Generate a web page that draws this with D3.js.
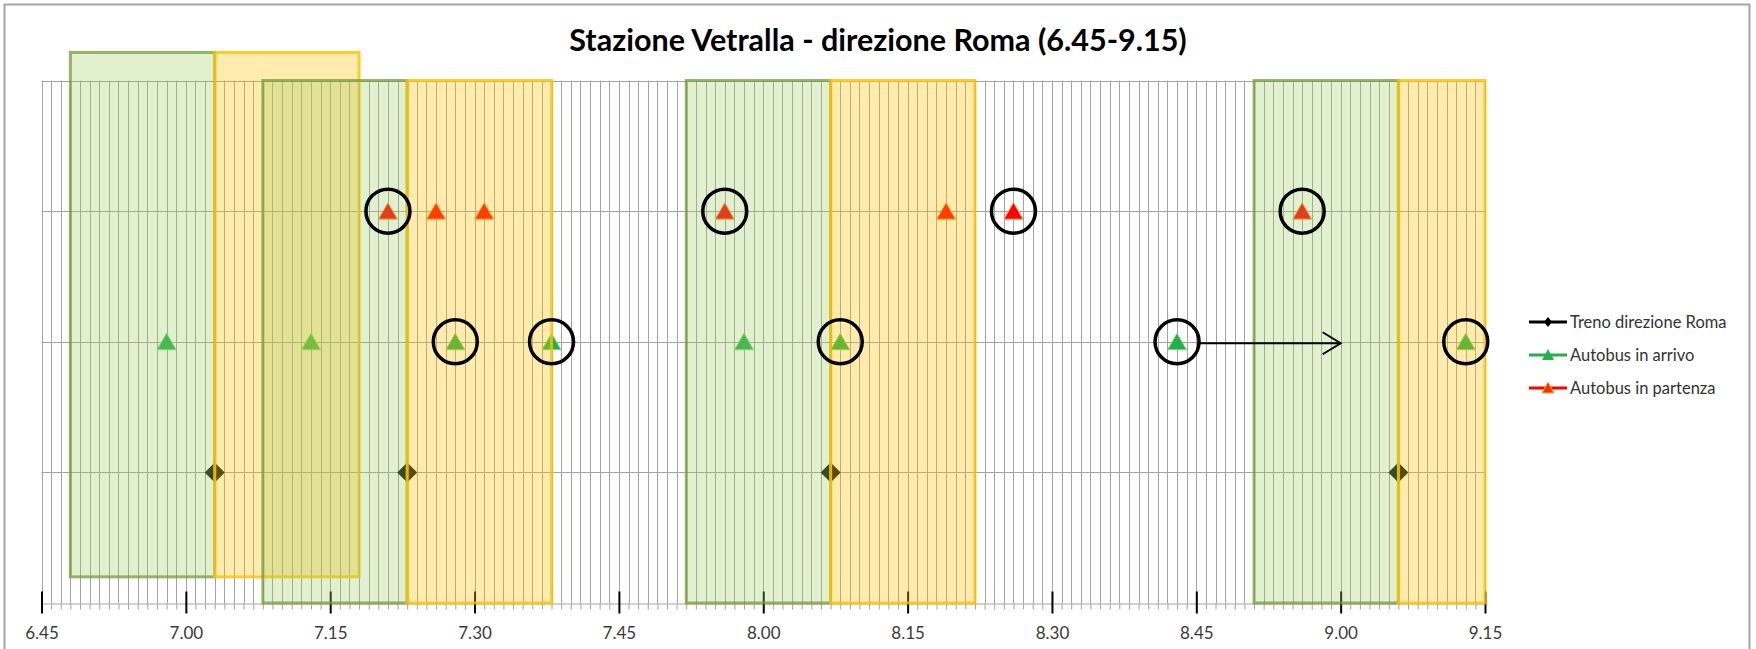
<!DOCTYPE html>
<html>
<head>
<meta charset="utf-8">
<script src="https://cdn.jsdelivr.net/npm/d3@7"></script>
<style>
  body { margin: 0; background: #fff; }
  svg { display: block; }
</style>
</head>
<body>
<div id="chart"></div>
<script>
// orari (h.mm)
const chartTitle = "Stazione Vetralla - direzione Roma (6.45-9.15)";
const tickLabels = ["6.45", "7.00", "7.15", "7.30", "7.45", "8.00", "8.15", "8.30", "8.45", "9.00", "9.15"];
const trainTimes = ["7.03", "7.23", "8.07", "9.06"];
const arrivalTimes = ["6.58", "7.13", "7.28", "7.38", "7.58", "8.08", "8.43", "9.13"];
const departureTimes = ["7.21", "7.26", "7.31", "7.56", "8.19", "8.26", "8.56"];
const circledArrivals = ["7.28", "7.38", "8.08", "8.43", "9.13"];
const circledDepartures = ["7.21", "7.56", "8.26", "8.56"];
const arrowFrom = "8.43";
const arrowTo = "9.00";
const windowMinutes = 15;
const seriesNames = ["Treno direzione Roma", "Autobus in arrivo", "Autobus in partenza"];
const seriesLevels = [1, 2, 3];

const W = 1756, H = 649;
const toMin = s => { const [h, m] = s.split(".").map(Number); return h * 60 + m; };
const fmt = m => `${Math.floor(m / 60)}.${String(m % 60).padStart(2, "0")}`;

const t0 = toMin(tickLabels[0]), t1 = toMin(tickLabels[tickLabels.length - 1]);
const x = d3.scaleLinear().domain([t0, t1]).range([41.5, 1485]);
const y = d3.scaleLinear().domain([0, 4]).range([603, 80.5]);

const svg = d3.select("#chart").append("svg")
    .attr("width", W)
    .attr("height", H)
    .style("font-family", "Lato, 'Open Sans', sans-serif");

svg.append("rect")
    .attr("x", 4.5).attr("y", 4.5)
    .attr("width", 1745).attr("height", 700)
    .attr("fill", "#fff")
    .attr("stroke", "#a6a6a6")
    .attr("stroke-width", 2);

svg.append("text")
    .attr("x", 878)
    .attr("y", 51)
    .attr("text-anchor", "middle")
    .attr("font-size", "30.5px")
    .attr("font-weight", "bold")
    .attr("fill", "#000")
    .text(chartTitle);

const plot = svg.append("g");

// griglia verticale ogni minuto
const minutes = d3.range(t0, t1 + 1);
plot.selectAll(".vgrid")
    .data(minutes)
    .enter().append("line")
    .attr("class", "vgrid")
    .attr("x1", d => Math.round(x(d)) + 0.5)
    .attr("x2", d => Math.round(x(d)) + 0.5)
    .attr("y1", y(4))
    .attr("y2", y(0))
    .attr("stroke", "#a3a3a3")
    .attr("stroke-width", 1);

plot.selectAll(".hgrid")
    .data([1, 2, 3, 4])
    .enter().append("line")
    .attr("class", "hgrid")
    .attr("x1", x(t0))
    .attr("x2", x(t1))
    .attr("y1", d => Math.round(y(d)) + 0.5)
    .attr("y2", d => Math.round(y(d)) + 0.5)
    .attr("stroke", "#a3a3a3")
    .attr("stroke-width", 1);

// asse x: tacche minori, poi maggiori con etichette
const minorAxis = d3.axisBottom(x)
    .tickValues(minutes)
    .tickSize(6)
    .tickFormat("");
const gMinor = plot.append("g")
    .attr("transform", `translate(0,${Math.round(y(0)) + 0.5})`)
    .call(minorAxis);
gMinor.select(".domain").attr("stroke", "#a3a3a3");
gMinor.selectAll(".tick line").attr("stroke", "#a3a3a3");

const majorAxis = d3.axisBottom(x)
    .tickValues(tickLabels.map(toMin))
    .tickSize(10)
    .tickPadding(13)
    .tickFormat(fmt);
const gMajor = plot.append("g")
    .attr("transform", `translate(0,${Math.round(y(0)) + 0.5})`)
    .call(majorAxis);
gMajor.select(".domain").remove();
gMajor.selectAll(".tick line")
    .attr("y1", -12)
    .attr("stroke", "#000")
    .attr("stroke-width", 2);
gMajor.selectAll(".tick text")
    .attr("font-size", "17px")
    .attr("font-family", "Lato, sans-serif")
    .attr("fill", "#3a3a3a");

// marcatori
const triangle = "M0,-8.5L9.5,8L-9.5,8Z";
const diamond = "M0,-10L10,0L0,10L-10,0Z";

plot.selectAll(".train")
    .data(trainTimes)
    .enter().append("path")
    .attr("class", "train")
    .attr("d", diamond)
    .attr("transform", d => `translate(${x(toMin(d))},${y(seriesLevels[0])})`)
    .attr("fill", "#111");

plot.selectAll(".arrival")
    .data(arrivalTimes)
    .enter().append("path")
    .attr("class", "arrival")
    .attr("d", triangle)
    .attr("transform", d => `translate(${x(toMin(d))},${y(seriesLevels[1])})`)
    .attr("fill", "#22b14c")
    .attr("stroke", "#8fd47f")
    .attr("stroke-width", 1);

plot.selectAll(".departure")
    .data(departureTimes)
    .enter().append("path")
    .attr("class", "departure")
    .attr("d", triangle)
    .attr("transform", d => `translate(${x(toMin(d))},${y(seriesLevels[2])})`)
    .attr("fill", "#ff0000")
    .attr("stroke", "#ffa040")
    .attr("stroke-width", 1);

// finestre di 15 minuti prima (verde) e dopo (giallo) ogni treno
const windows = [];
trainTimes.forEach((tt, i) => {
    const t = toMin(tt);
    const band = i === 0 ? [0.2, 4.215] : [0, 4];
    windows.push({ from: t - windowMinutes, to: t, kind: "before", band });
    windows.push({ from: t, to: Math.min(t + windowMinutes, t1), kind: "after", band });
});

plot.selectAll(".window")
    .data(windows)
    .enter().append("rect")
    .attr("class", "window")
    .attr("x", d => x(d.from))
    .attr("y", d => y(d.band[1]))
    .attr("width", d => x(d.to) - x(d.from))
    .attr("height", d => y(d.band[0]) - y(d.band[1]))
    .attr("fill", d => d.kind === "before" ? "rgba(155,205,95,0.3)" : "rgba(255,192,0,0.32)")
    .attr("stroke", d => d.kind === "before" ? "rgba(120,155,60,0.75)" : "rgba(255,192,0,0.8)")
    .attr("stroke-width", 3);

// cerchi sulle coincidenze
const circled = circledArrivals.map(d => ({ t: d, level: seriesLevels[1] }))
    .concat(circledDepartures.map(d => ({ t: d, level: seriesLevels[2] })));
plot.selectAll(".ring")
    .data(circled)
    .enter().append("circle")
    .attr("class", "ring")
    .attr("cx", d => x(toMin(d.t)))
    .attr("cy", d => y(d.level))
    .attr("r", 22)
    .attr("fill", "none")
    .attr("stroke", "#000")
    .attr("stroke-width", 3.5);

// freccia
const ax0 = x(toMin(arrowFrom)) + 20, ax1 = x(toMin(arrowTo));
const ay = y(seriesLevels[1]) + 1.5;
plot.append("line")
    .attr("x1", ax0).attr("x2", ax1)
    .attr("y1", ay).attr("y2", ay)
    .attr("stroke", "#000")
    .attr("stroke-width", 2);
plot.append("path")
    .attr("d", `M${ax1 - 18},${ay - 11}L${ax1},${ay}L${ax1 - 18},${ay + 11}`)
    .attr("fill", "none")
    .attr("stroke", "#000")
    .attr("stroke-width", 2);

// legenda
const legendColors = ["#000", "#22b14c", "#ff0000"];
const legendMarkers = [
    "M0,-5L4,0L0,5L-4,0Z",
    "M0,-6L6,5L-6,5Z",
    "M0,-6L6,5L-6,5Z"
];
const legendFill = ["#000", "#22b14c", "#ff3000"];
const legend = svg.append("g").attr("transform", "translate(1529,322)");
const rows = legend.selectAll(".lrow")
    .data(seriesNames)
    .enter().append("g")
    .attr("class", "lrow")
    .attr("transform", (d, i) => `translate(0,${i * 33})`);
rows.append("line")
    .attr("x1", 0).attr("x2", 38)
    .attr("stroke", (d, i) => legendColors[i])
    .attr("stroke-width", 3);
rows.append("path")
    .attr("d", (d, i) => legendMarkers[i])
    .attr("transform", "translate(19,0)")
    .attr("fill", (d, i) => legendFill[i])
    .attr("stroke", (d, i) => i === 2 ? "#ffb020" : "none");
rows.append("text")
    .attr("x", 41)
    .attr("y", 5.5)
    .attr("font-size", "16.5px")
    .attr("fill", "#333")
    .text(d => d);
</script>
</body>
</html>
